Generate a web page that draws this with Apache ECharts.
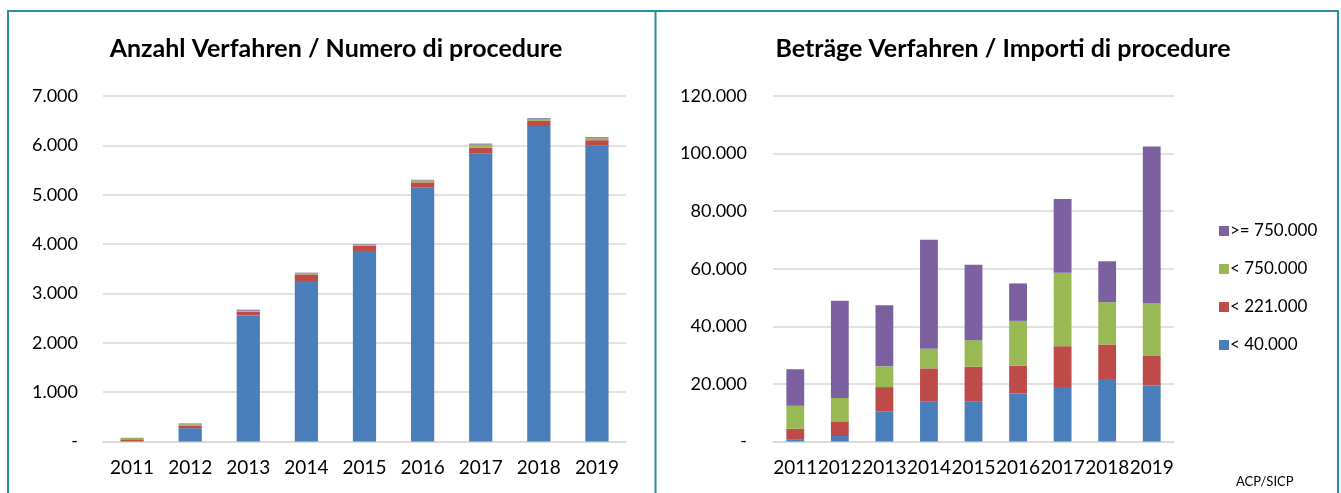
<!DOCTYPE html>
<html>
<head>
<meta charset="utf-8">
<script src="https://cdn.jsdelivr.net/npm/echarts@6/dist/echarts.min.js"></script>
<style>
  html, body { margin: 0; padding: 0; background: #fff; }
  #chart { width: 1341px; height: 493px; }
</style>
</head>
<body>
<div id="chart"></div>
<script>
var years = ['2011', '2012', '2013', '2014', '2015', '2016', '2017', '2018', '2019'];
var classNames = ['< 40.000', '< 221.000', '< 750.000', '>= 750.000'];
var legendOrder = ['>= 750.000', '< 750.000', '< 221.000', '< 40.000'];

// Anzahl Verfahren / Numero di procedure
var countLt40 = [10, 270, 2550, 3250, 3860, 5150, 5830, 6390, 6000];
var countLt221 = [35, 55, 80, 135, 110, 100, 125, 105, 105];
var countLt750 = [25, 25, 20, 20, 20, 40, 60, 40, 40];
var countGe750 = [5, 15, 20, 15, 10, 12, 20, 15, 20];

// Beträge Verfahren / Importi di procedure
var amountLt40 = [600, 1900, 10500, 14000, 14000, 16700, 18900, 21700, 19400];
var amountLt221 = [3800, 5100, 8400, 11400, 12000, 9600, 14200, 12000, 10500];
var amountLt750 = [8000, 8100, 7200, 6800, 9200, 15600, 25500, 14700, 18000];
var amountGe750 = [12700, 33800, 21200, 37900, 26200, 13000, 25600, 14200, 54600];

var colors = ['#4a7ebb', '#be4b48', '#98b954', '#7d60a0'];
var FONT = 'Lato, "Noto Sans", sans-serif';

function fmt(v) {
  if (v === 0) return '-';
  return String(v).replace(/\B(?=(\d{3})+(?!\d))/g, '.');
}

var countData = [countLt40, countLt221, countLt750, countGe750];
var amountData = [amountLt40, amountLt221, amountLt750, amountGe750];

var series = [];
classNames.forEach(function (name, i) {
  series.push({
    name: name, type: 'bar', stack: 'count', xAxisIndex: 0, yAxisIndex: 0,
    barWidth: '40%', data: countData[i], itemStyle: { color: colors[i] }
  });
});
classNames.forEach(function (name, i) {
  series.push({
    name: name, type: 'bar', stack: 'amount', xAxisIndex: 1, yAxisIndex: 1,
    barWidth: '40%', data: amountData[i], itemStyle: { color: colors[i] }
  });
});

function xAxis(idx) {
  return {
    type: 'category', gridIndex: idx, data: years,
    axisLine: { lineStyle: { color: '#d9d9d9', width: 1.5 } },
    axisTick: { show: false },
    axisLabel: { color: '#000', fontFamily: FONT, fontSize: 19, margin: 17, interval: 0 }
  };
}
function yAxis(idx, max, step, margin) {
  return {
    type: 'value', gridIndex: idx, min: 0, max: max, interval: step,
    axisLine: { show: false }, axisTick: { show: false },
    splitLine: { lineStyle: { color: '#d9d9d9', width: 1.5 } },
    axisLabel: { color: '#000', fontFamily: FONT, fontSize: 18, margin: margin, formatter: fmt }
  };
}

var chart = echarts.init(document.getElementById('chart'));
chart.setOption({
  animation: false,
  backgroundColor: '#fff',
  color: colors,
  title: [
    { text: 'Anzahl Verfahren / Numero di procedure', left: 331, top: 31, textAlign: 'center',
      textStyle: { fontFamily: FONT, fontSize: 25, fontWeight: 'bold', color: '#000' } },
    { text: 'Beträge Verfahren / Importi di procedure', left: 998, top: 31, textAlign: 'center',
      textStyle: { fontFamily: FONT, fontSize: 25, fontWeight: 'bold', color: '#000' } }
  ],
  legend: {
    data: legendOrder, orient: 'vertical', left: 1214, top: 216,
    icon: 'rect', itemWidth: 10, itemHeight: 10, itemGap: 18,
    textStyle: { fontFamily: FONT, fontSize: 17, color: '#000', lineHeight: 20, padding: [0, 0, 0, -4] }
  },
  grid: [
    { left: 103, right: 715, top: 96, bottom: 51.5 },
    { left: 773, right: 167, top: 96, bottom: 51.5 }
  ],
  xAxis: [xAxis(0), xAxis(1)],
  yAxis: [yAxis(0, 7000, 1000, 25), yAxis(1, 120000, 20000, 26)],
  series: series,
  graphic: [
    { type: 'rect', shape: { x: 8, y: 11, width: 1330, height: 500 },
      style: { fill: 'none', stroke: '#2a8ba1', lineWidth: 2 }, silent: true },
    { type: 'line', shape: { x1: 655.5, y1: 11, x2: 655.5, y2: 493 },
      style: { stroke: '#2a8ba1', lineWidth: 2 }, silent: true },
    { type: 'text', left: 1236, top: 475,
      style: { text: 'ACP/SICP', font: '13px ' + FONT, fill: '#000' }, silent: true }
  ]
});
</script>
</body>
</html>
